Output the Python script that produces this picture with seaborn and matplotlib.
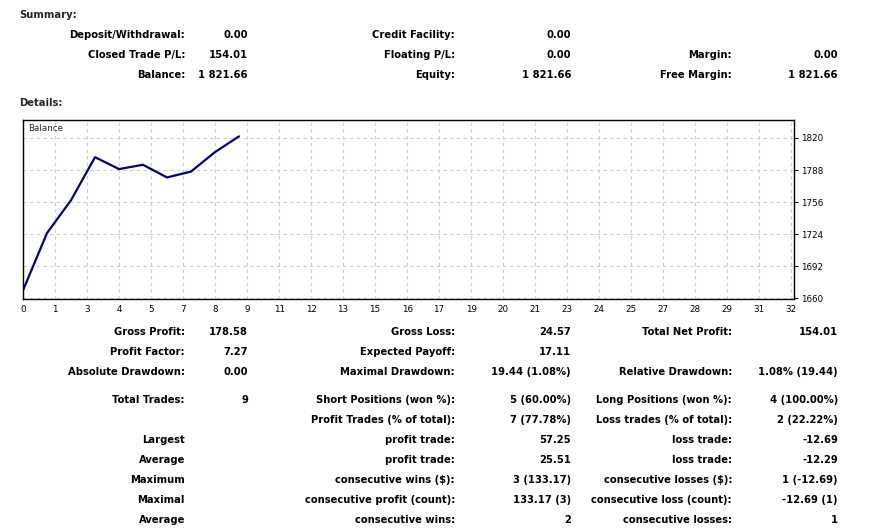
import numpy as np
import pandas as pd
import matplotlib
matplotlib.use("Agg")
import matplotlib.pyplot as plt
import seaborn as sns

# balance after each trade (trade 0 = start)
trade_no = [0, 1, 2, 3, 4, 5, 6, 7, 8, 9]
balance = [1667.65, 1724.90, 1757.80, 1800.82, 1788.93, 1793.23, 1780.54, 1786.44, 1805.94, 1821.65]

x_tick_labels = ["0", "1", "3", "4", "5", "7", "8", "9", "11", "12", "13", "15", "16",
                 "17", "19", "20", "21", "23", "24", "25", "27", "28", "29", "31", "32"]
y_ticks = [1660, 1692, 1724, 1756, 1788, 1820]

summary_rows = [
    ["Deposit/Withdrawal:", "0.00", "Credit Facility:", "0.00", "", ""],
    ["Closed Trade P/L:", "154.01", "Floating P/L:", "0.00", "Margin:", "0.00"],
    ["Balance:", "1 821.66", "Equity:", "1 821.66", "Free Margin:", "1 821.66"],
]

detail_rows = [
    ["Gross Profit:", "178.58", "Gross Loss:", "24.57", "Total Net Profit:", "154.01"],
    ["Profit Factor:", "7.27", "Expected Payoff:", "17.11", "", ""],
    ["Absolute Drawdown:", "0.00", "Maximal Drawdown:", "19.44 (1.08%)", "Relative Drawdown:", "1.08% (19.44)"],
    ["Total Trades:", "9", "Short Positions (won %):", "5 (60.00%)", "Long Positions (won %):", "4 (100.00%)"],
    ["", "", "Profit Trades (% of total):", "7 (77.78%)", "Loss trades (% of total):", "2 (22.22%)"],
    ["Largest", "", "profit trade:", "57.25", "loss trade:", "-12.69"],
    ["Average", "", "profit trade:", "25.51", "loss trade:", "-12.29"],
    ["Maximum", "", "consecutive wins ($):", "3 (133.17)", "consecutive losses ($):", "1 (-12.69)"],
    ["Maximal", "", "consecutive profit (count):", "133.17 (3)", "consecutive loss (count):", "-12.69 (1)"],
    ["Average", "", "consecutive wins:", "2", "consecutive losses:", "1"],
]

W, H = 874, 531
sns.set_style("white")
plt.rcParams['font.family'] = ['DejaVu Sans']

fig = plt.figure(figsize=(W / 100, H / 100), dpi=100)

def fx(px):
    return px / W

def fy(py):
    return 1 - py / H

col_right = [185, 248, 455, 571, 732, 838]
fs = 7.2

def put_row(row, y):
    for txt, xr in zip(row, col_right):
        if txt:
            fig.text(fx(xr), fy(y), txt, ha="right", va="center", fontsize=fs,
                     fontweight="bold", color="black")

fig.text(fx(19), fy(15), "Summary:", ha="left", va="center", fontsize=fs, fontweight="bold")
for i, row in enumerate(summary_rows):
    put_row(row, 35 + 20 * i)
fig.text(fx(19), fy(103), "Details:", ha="left", va="center", fontsize=fs, fontweight="bold")

detail_y = [332, 352, 372, 400, 420, 440, 460, 480, 500, 520]
for row, y in zip(detail_rows, detail_y):
    put_row(row, y)

# balance chart
left, right, top, bottom = 23, 794, 120, 299
ax = fig.add_axes([fx(left), fy(bottom), fx(right - left), (bottom - top) / H])
df = pd.DataFrame({"trade": trade_no, "balance": balance})
sns.lineplot(data=df, x="trade", y="balance", ax=ax, color="#000080", linewidth=1.6)

ax.set_xlim(0, 32.12)
ax.set_ylim(1659, 1838)
xt = np.arange(len(x_tick_labels)) * 4 / 3
ax.set_xticks(xt)
ax.set_xticklabels(x_tick_labels)
ax.set_yticks(y_ticks)
ax.set_yticklabels([str(v) for v in y_ticks])
ax.yaxis.tick_right()
ax.tick_params(axis="both", labelsize=6.3, colors="black", length=3, width=0.8,
               direction="out", pad=2)
ax.tick_params(axis="x", length=2)
ax.grid(True, color="#cccccc", linestyle=(0, (3, 3)), linewidth=0.8)
ax.set_xlabel("")
ax.set_ylabel("")
for s in ax.spines.values():
    s.set_color("black")
    s.set_linewidth(1.0)
ax.text(0.006, 0.975, "Balance", transform=ax.transAxes, ha="left", va="top", fontsize=6.3)

fig.savefig("out.png", dpi=100, facecolor="white")
